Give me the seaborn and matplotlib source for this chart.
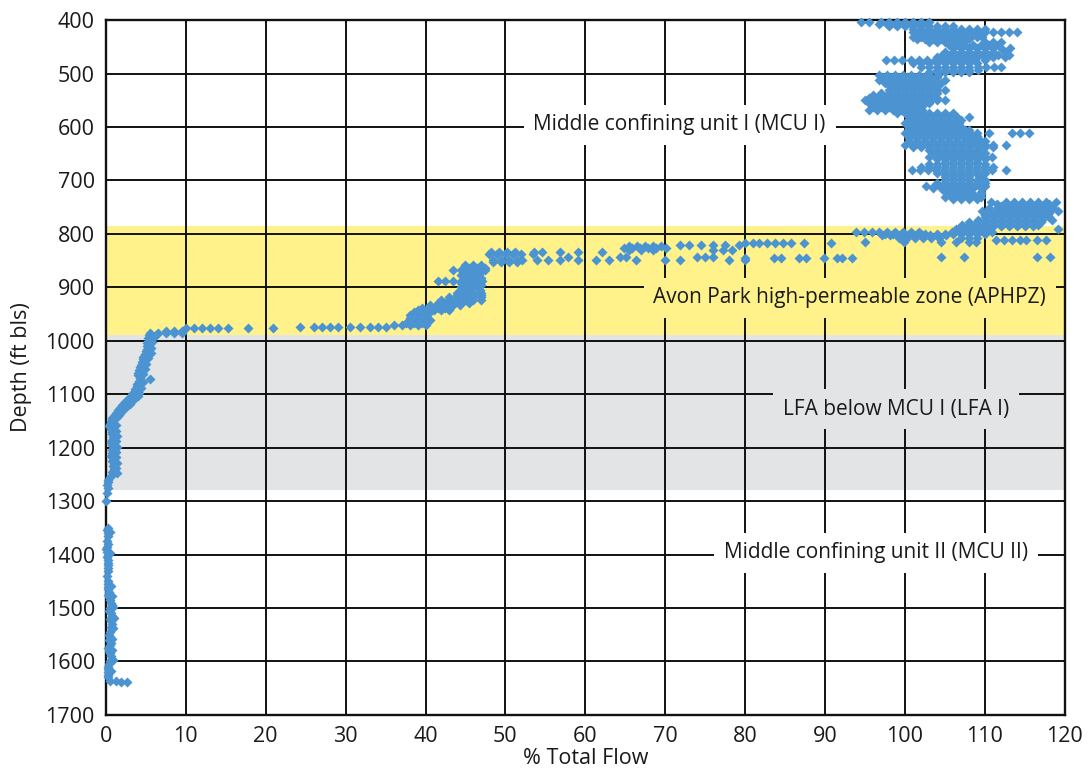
import numpy as np
import pandas as pd
import matplotlib
matplotlib.use("Agg")
import matplotlib.pyplot as plt
import seaborn as sns
from matplotlib.ticker import MultipleLocator

# ---------------- data ----------------
# Middle confining unit I: rows of (depth ft bls, % total flow readings)
mcu1_rows = [
    (403, [94.5, 95.5, 97, 98, 99, 100, 101, 102, 103]),
    (408, [96.8, 97.8, 98.8, 99.8, 100.8, 101.8, 102.8]),
    (412, [98, 99, 100, 101, 102, 103, 104, 105, 106]),
    (416, [101, 102, 103, 104, 105, 106, 107, 108, 109, 110]),
    (422, [101, 102, 103, 104, 105, 106, 107, 108, 109, 110, 111, 112, 113, 114]),
    (426, [101.5, 102.5, 103.5, 104.5, 105.5, 106.5, 107.5, 108.5, 109.5]),
    (431, [101, 102, 103, 104, 105, 106, 107, 108, 109, 109.6]),
    (436, [101.5, 102.5, 103.5, 104.5, 105.5, 106.5, 107.5, 108]),
    (441, [103, 104, 105, 106, 106.8, 110, 111, 112]),
    (447, [105.5, 106.5, 107.5, 108.5, 109.5, 110.5, 111.7]),
    (453, [106, 107, 108, 109, 110, 111, 112, 113.2]),
    (460, [105, 106, 107, 108, 109, 110, 111, 112.5]),
    (466, [104.6, 105.6, 106.6, 107.6, 108.6, 109.6, 110.6, 111.6, 113]),
    (470, [104, 105, 106, 107, 108, 109, 110, 111, 112.5]),
    (475, [97.6, 98.6, 99.6, 100.8, 101.8, 102.8, 103.8, 104.8, 105.8, 106.8, 107.8, 108.8, 110]),
    (481, [101, 102, 103, 104, 105, 106, 107, 108, 109]),
    (488, [102, 103, 104, 105, 106, 107, 108, 109.2, 110.2, 111.2, 112]),
    (494, [104, 105, 106, 107, 108, 109.2]),
    (498, [103, 104, 105, 106, 107, 108]),
    (503, [96.8, 97.8, 98.8, 99.8, 100.8, 101.8, 102.8, 104.2]),
    (507, [97.3, 98.3, 99.3, 100.3, 101.3, 102.3, 103.3, 104]),
    (512, [96.8, 97.8, 98.8, 99.8, 100.8, 101.8, 102.8, 103.8, 105]),
    (517, [97.5, 98.5, 99.5, 100.5, 101.5, 102.5, 103.5, 104.5]),
    (521, [98, 99, 100, 101, 102, 103.4]),
    (526, [98.5, 99.5, 100.5, 101.5, 102.5, 103.5, 104]),
    (531, [98, 99, 100, 101, 102, 103, 104, 105]),
    (536, [97, 98, 99, 100, 101, 102, 103, 104]),
    (540, [96, 97, 98, 99, 100, 101, 102]),
    (545, [95.5, 96.5, 97.5, 98.5, 99.5, 100.5, 101.5, 102.5, 103.5, 104]),
    (550, [95, 96, 97, 98, 99, 100, 101, 102, 103, 104, 105]),
    (555, [95.5, 96.5, 97.5, 98.5, 99.5, 100.5, 101.5, 102.5, 103]),
    (559, [96, 97, 98, 99, 100, 101, 102]),
    (563, [96, 97, 98, 99, 100, 101, 102]),
    (568, [95.5, 96.5, 97.5, 98.5, 99.5, 100.5, 101.5, 102.1]),
    (574, [99, 100, 101, 102, 103, 104, 105, 106]),
    (581, [100.5, 101.5, 102.5, 103.5, 104.5, 105.5, 106.5, 108]),
    (587, [100.5, 101.5, 102.5, 103.5, 104.5, 105.5, 106.5, 107]),
    (593, [100, 101, 102, 103, 104, 105, 106, 106.8]),
    (597, [100.5, 101.5, 102.5, 103.5, 104.5, 105.5, 106.5]),
    (602, [100.5, 101.5, 102.5, 103.5, 104.5, 105.5, 106.5, 107.1]),
    (606, [100.5, 101.5, 102.5, 103.5, 104.5, 105.5, 106.5, 107.5, 108]),
    (611, [100, 101, 102, 103, 104, 105, 106, 107, 108, 109, 110.5, 113.4, 114.4, 115.5]),
    (616, [100.5, 101.5, 102.5, 103.5, 104.5, 105.5, 106.5, 107.5, 108.5, 109]),
    (621, [100.5, 101.5, 102.5, 103.5, 104.5, 105.5, 106.5, 107.5, 108.4]),
    (627, [100.5, 101.5, 102.5, 103.5, 104.5, 105.5, 106.5, 107.5, 108.5, 109.5, 110]),
    (634, [100, 101, 102, 103, 104, 105, 106, 107, 108, 109, 110, 111, 112.6]),
    (638, [101, 102, 103, 104, 105, 106, 107, 108, 109, 110, 111]),
    (643, [103, 104, 105, 106, 107, 108, 109.2]),
    (649, [103.5, 104.5, 105.5, 106.5, 107.5, 108.5, 109.5, 110]),
    (656, [103, 104, 105, 106, 107, 108, 109, 110, 110.9]),
    (660, [104, 105, 106, 107, 108, 109, 110]),
    (665, [105, 106, 107, 108, 109]),
    (670, [103, 104, 105, 106, 107, 108, 109, 110]),
    (675, [102, 103, 104, 105, 106, 107, 108, 109, 110, 111]),
    (681, [100.9, 101.9, 102.9, 103.9, 104.9, 105.9, 106.9, 107.9, 108.9, 109.9, 110.9, 112.6]),
    (686, [104, 105, 106, 107, 108, 109, 110]),
    (690, [105, 106, 107, 108, 109.2]),
    (694, [105, 106, 107, 108, 109.5]),
    (699, [105, 106, 107, 108, 109, 110]),
    (704, [104, 105, 106, 107, 108, 109, 110]),
    (710, [102.6, 103.6, 104.6, 105.6, 106.6, 107.6, 108.6, 110]),
    (715, [103.5, 104.5, 105.5, 106.5, 107.5, 108.5, 109.5]),
    (721, [105, 106, 107, 108, 109.5]),
    (726, [105.5, 106.5, 107.5, 108.5, 109.5]),
    (731, [105, 106, 107, 108, 109.5]),
    (735, [106, 107, 108, 109]),
    (740, [110.8, 112.6, 113.6, 114.6, 115.6, 116.6, 117.6, 118.9]),
    (744, [111.5, 112.5, 113.5, 114.5, 115.5, 116.5, 117.5, 118]),
    (748, [112, 113, 114, 115, 116, 117]),
    (752, [110.5, 111.5, 112.5, 113.5, 114.5, 115.5, 116.5, 117.5, 118.5]),
    (757, [109.6, 110.6, 111.6, 112.6, 113.6, 114.6, 115.6, 116.6, 117.6, 119.2]),
    (761, [110.5, 111.5, 112.5, 113.5, 114.5, 115.5, 116.5, 117.5, 118]),
    (765, [110, 111, 112, 113, 114, 115, 116, 117]),
    (769, [110, 111, 112, 113, 114, 115, 116, 117, 118]),
    (774, [109.2, 110.2, 111.2, 112.2, 113.2, 114.2, 115.2, 116.2, 117.2, 118.4]),
    (778, [108, 109, 110, 111, 112, 113, 114, 115, 116, 117]),
    (783, [107.1, 108.1, 109.1, 110.1, 111.1, 112.1, 113.1, 114.1, 115.1, 116.7]),
    (786, [107, 108, 109, 110, 111, 112, 113, 114, 115, 116]),
    (790, [106.4, 107.4, 108.4, 109.4, 110.5, 119.2]),
]

# Avon Park high-permeable zone: rows of (depth, % total flow readings)
aphpz_rows = [
    (797, [93.9, 94.9, 95.9, 96.8, 97.8, 98.8, 99.8, 100.8, 101.8, 105.9, 106.9, 107.9, 108.9, 109.9, 110.9]),
    (800, [97.5, 98.5, 99.5, 100.5, 101.5, 102.5, 104, 105, 106, 107, 108, 109, 110]),
    (803, [97.1, 98.1, 99.1, 100.1, 101.1, 102.1, 103.1, 104.1, 105.1]),
    (808, [99.3, 100.3, 101.3, 102.3, 103.3, 104.3, 107, 108, 109]),
    (811, [111.4, 112.4, 113.4, 114.4, 115.1, 116.5, 117.6]),
    (815, [95, 99.9, 104.5, 106.4, 108, 108.9]),
    (817, [80, 81, 81.8, 82.8, 83.8, 84.8, 85.8, 87.4, 90.8]),
    (820, [71.8, 73, 74.5, 76, 77.5, 79.2]),
    (823, [65.5, 66.5, 67.5, 68.5, 69.5]),
    (826, [64.9, 65.9, 66.9, 67.9, 68.9, 70.1]),
    (830, [65.5, 67, 68.5, 76, 77.2, 78.4]),
    (834, [48.2, 49.2, 50.2, 51.2, 53.6, 54.6, 56.8, 59.1, 62.1]),
    (838, [48, 49, 50, 51, 52, 53.4]),
    (843, [57.8, 64.3, 65.1, 74, 75, 76, 104.5, 107.4, 116.5, 118.2]),
    (845, [80, 83.6, 84.5, 86.8, 87.6, 89.9, 91.5, 92.1, 93.4]),
    (849, [48.4, 49.4, 50.4, 51.4, 52.1, 54, 55.3, 56.8, 59.1, 61.4, 63, 66.4, 70, 71.8, 78, 80]),
    (853, [48.5, 49.5, 50.5, 51.5]),
    (858, [45, 46, 47]),
    (863, [45.5, 46.5, 47.4]),
    (868, [43.5, 44.5, 45.5, 46.5, 47.4]),
    (872, [45, 46, 47]),
    (877, [44.5, 45.5, 46.5]),
    (882, [45, 46, 47]),
    (888, [41.5, 42.5, 43.5, 44.5, 45.5, 46.5, 47.1]),
    (892, [44.5, 45.5, 46.5]),
    (896, [45, 46, 47]),
    (900, [44.5, 45.5, 46.5]),
    (905, [44.5, 45.5, 46.8]),
    (910, [44, 45, 46, 47]),
    (915, [44, 45, 46, 47]),
    (919, [43, 44, 45, 46, 47]),
    (924, [42, 43, 44, 45, 46, 47]),
    (929, [41.5, 42.5, 43.5, 44.5, 45.5]),
    (933, [40.5, 41.5, 42.5, 43.5, 44.3]),
    (938, [39.5, 40.5, 41.5, 42.5]),
    (942, [39, 40, 41, 42, 43]),
    (947, [38.5, 39.5, 40.5]),
    (952, [38, 39, 40]),
    (957, [38, 39, 40]),
    (961, [38, 39, 40.5]),
    (966, [37.5, 38.5, 39.5]),
    (970, [36, 37, 38, 39, 40]),
    (974, [24.3, 26, 27, 28, 29, 30.5, 31.8, 33, 34, 35]),
    (977, [10, 11, 12, 13, 14, 15.3, 17.8, 20.9]),
    (982, [7.5, 8.5, 9.5]),
    (986, [5.5, 6.5, 7.5, 8.5, 9.5]),
]

# LFA I and MCU II: profile (depth, % total flow), left-side readings
lower_depth = [990, 995, 1000, 1005, 1010, 1015, 1020, 1025, 1030, 1035, 1040,
               1045, 1050, 1055, 1060, 1065, 1070, 1072, 1075, 1080, 1085, 1090,
               1095, 1100, 1105, 1110, 1115, 1120, 1125, 1130, 1135, 1140, 1145,
               1150, 1155, 1160, 1165, 1170, 1175, 1180, 1185, 1190, 1195, 1200,
               1205, 1210, 1215, 1220, 1225, 1230, 1235, 1240, 1245, 1250, 1255,
               1260, 1265, 1270, 1275, 1285, 1300,
               1350, 1355, 1360, 1365, 1375, 1380, 1385, 1390, 1395, 1400, 1405,
               1410, 1415, 1420, 1425, 1430, 1440, 1450, 1455, 1460, 1465, 1470,
               1475, 1480, 1485, 1490, 1495, 1500, 1505, 1510, 1515, 1520, 1525,
               1530, 1535, 1540, 1545, 1550, 1555, 1560, 1565, 1570, 1575, 1580,
               1585, 1590, 1595, 1600, 1605, 1610, 1615, 1620, 1625, 1630,
               1636, 1637, 1638, 1638]
lower_flow = [5.4, 5.3, 5.3, 5.2, 5.2, 5.1, 5.0, 4.9, 4.7, 4.6, 4.5,
              4.4, 4.3, 4.1, 4.0, 4.0, 4.3, 5.5, 4.1, 3.9, 3.9, 3.7,
              3.5, 3.3, 3.0, 2.7, 2.4, 2.0, 1.7, 1.5, 1.2, 1.0, 0.8,
              0.6, 0.5, 0.4, 0.6, 0.8, 0.7, 0.9, 0.8, 0.6, 0.8, 0.9,
              0.7, 0.8, 0.6, 0.9, 0.7, 1.0, 0.9, 1.0, 0.8, 0.9, 0.5,
              0.3, 0.2, 0.1, 0.2, 0.1, 0.0,
              0.2, 0.1, 0.3, 0.2, 0.1, 0.2, 0.1, 0.0, 0.1, 0.2, 0.1,
              0.2, 0.3, 0.2, 0.3, 0.2, 0.1, 0.2, 0.3, 0.2, 0.3, 0.4,
              0.3, 0.4, 0.5, 0.6, 0.7, 0.5, 0.4, 0.6, 0.7, 0.5, 0.6,
              0.8, 0.6, 0.7, 0.5, 0.4, 0.5, 0.4, 0.6, 0.5, 0.3, 0.4,
              0.5, 0.6, 0.8, 0.5, 0.4, 0.3, 0.2, 0.3, 0.2, 0.3,
              0.5, 1.2, 1.9, 2.6]

# LFA I and MCU II: right-side readings of the same profile
lower_depth_b = [988, 993, 1003, 1013, 1023, 1033, 1043, 1053, 1063, 1078, 1088,
                 1098, 1103, 1108, 1113, 1118, 1123, 1128, 1133, 1138, 1143,
                 1158, 1168, 1178, 1188, 1198, 1208, 1218, 1228, 1238, 1248,
                 1358, 1398, 1458, 1478, 1498, 1518, 1538, 1558, 1578, 1598, 1618]
lower_flow_b = [6.4, 6.0, 5.8, 5.7, 5.6, 5.3, 5.0, 4.9, 4.7, 4.6, 4.4,
                4.2, 4.0, 3.7, 3.3, 3.0, 2.6, 2.3, 1.9, 1.6, 1.4,
                1.2, 1.3, 1.4, 1.3, 1.4, 1.3, 1.2, 1.4, 1.3, 1.4,
                0.5, 0.5, 0.6, 0.7, 0.9, 1.0, 0.9, 0.8, 0.7, 0.9, 0.6]

zone_labels = ["Middle confining unit I (MCU I)",
               "Avon Park high-permeable zone (APHPZ)",
               "LFA below MCU I (LFA I)",
               "Middle confining unit II (MCU II)"]
label_flow = [71.8, 93.1, 98.9, 96.4]
label_depth = [596, 920, 1128, 1397]
label_bg = ["white", "#fff28a", "#e3e4e6", "white"]

aphpz_top, aphpz_bottom = 785, 990
lfa_top, lfa_bottom = 990, 1280

x_ticks = list(range(0, 121, 10))
y_ticks = list(range(400, 1701, 100))

# ---------------- build dataframe ----------------
recs = []
for d, xs in mcu1_rows + aphpz_rows:
    for v in xs:
        recs.append((v, d))
for d, v in zip(lower_depth + lower_depth_b, lower_flow + lower_flow_b):
    recs.append((v, d))
df = pd.DataFrame(recs, columns=["flow", "depth"])

# ---------------- plot ----------------
sns.set_style("white")
plt.rcParams["font.family"] = ["Open Sans", "DejaVu Sans"]

fig = plt.figure(figsize=(10.92, 7.72), dpi=100)
ax = fig.add_axes([0.097, 0.074, 0.878, 0.9])

ax.axhspan(aphpz_top, aphpz_bottom, color="#fff28a", zorder=0.8, lw=0)
ax.axhspan(lfa_top, lfa_bottom, color="#e3e4e6", zorder=0.8, lw=0)

sns.scatterplot(data=df, x="flow", y="depth", marker="D", s=26,
                color="#4b93d1", linewidth=0, ax=ax, zorder=3, clip_on=False)

ax.set_xlim(0, 120)
ax.set_ylim(1700, 400)
ax.set_xticks(x_ticks)
ax.set_yticks(y_ticks)
ax.xaxis.set_minor_locator(MultipleLocator(5))
ax.yaxis.set_minor_locator(MultipleLocator(50))
ax.tick_params(axis="both", which="major", direction="out", length=6,
               width=1.6, color="#1a1a1a", labelsize=15.5, pad=2,
               labelcolor="#1a1a1a")
ax.tick_params(axis="both", which="minor", direction="inout", length=7,
               width=1.6, color="#1a1a1a")

ax.set_axisbelow("line")
ax.grid(True, which="major", color="#111111", linewidth=1.4)
for s in ax.spines.values():
    s.set_color("#111111")
    s.set_linewidth(1.7)

ax.set_xlabel("% Total Flow", fontsize=15.5, color="#1a1a1a", labelpad=1)
ax.set_ylabel("Depth (ft bls)", fontsize=15.5, color="#1a1a1a", labelpad=10)

for txt, xv, yv, bg in zip(zone_labels, label_flow, label_depth, label_bg):
    ax.text(xv, yv, txt, ha="center", va="center", fontsize=15,
            color="#1a1a1a", zorder=4,
            bbox=dict(facecolor=bg, edgecolor="none", pad=7))

fig.savefig("out.png", dpi=100)
